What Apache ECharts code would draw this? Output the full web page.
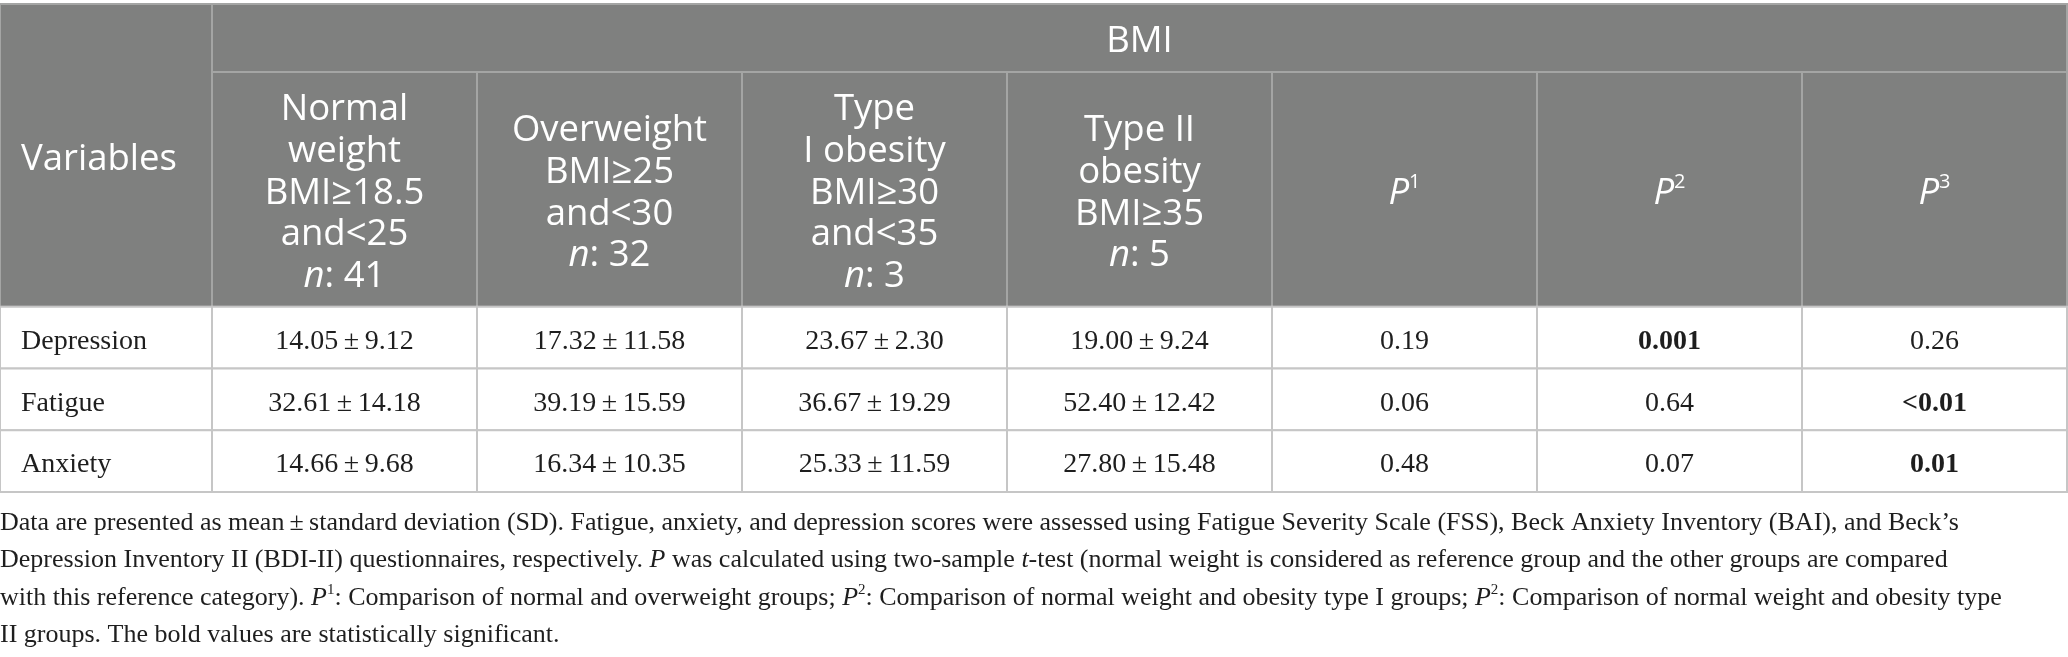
<!DOCTYPE html>
<html><head><meta charset="utf-8">
<script src="https://cdn.jsdelivr.net/npm/echarts@6/dist/echarts.min.js"></script>
<style>html,body{margin:0;padding:0;background:#fff}#c{width:2068px;height:657px}</style>
</head><body><div id="c"></div>
<script>
// ---------- data ----------
const firstHeader = 'Variables';
const spanHeader = 'BMI';
const variables = ['Depression', 'Fatigue', 'Anxiety'];
const groupNames = ['Normal\nweight', 'Overweight', 'Type\nI obesity', 'Type II\nobesity'];
const groupRanges = ['BMI≥18.5\nand<25', 'BMI≥25\nand<30', 'BMI≥30\nand<35', 'BMI≥35'];
const groupN = [41, 32, 3, 5];
const normalMean = [14.05, 32.61, 14.66];
const normalSD   = [9.12, 14.18, 9.68];
const overMean   = [17.32, 39.19, 16.34];
const overSD     = [11.58, 15.59, 10.35];
const ob1Mean    = [23.67, 36.67, 25.33];
const ob1SD      = [2.30, 19.29, 11.59];
const ob2Mean    = [19.00, 52.40, 27.80];
const ob2SD      = [9.24, 12.42, 15.48];
const pLabels = ['1', '2', '3'];
const p1 = ['0.19', '0.06', '0.48'];
const p2 = ['0.001', '0.64', '0.07'];
const p3 = ['0.26', '<0.01', '0.01'];
const p1Bold = [false, false, false];
const p2Bold = [true, false, false];
const p3Bold = [false, true, true];
const captionLines = [
  'Data are presented as mean\u2009±\u2009standard deviation (SD). Fatigue, anxiety, and depression scores were assessed using Fatigue Severity Scale (FSS), Beck Anxiety Inventory (BAI), and Beck’s',
  'Depression Inventory II (BDI-II) questionnaires, respectively. {i|P} was calculated using two-sample {i|t}-test (normal weight is considered as reference group and the other groups are compared',
  'with this reference category). {i|P}{s|1}: Comparison of normal and overweight groups; {i|P}{s|2}: Comparison of normal weight and obesity type I groups; {i|P}{s|2}: Comparison of normal weight and obesity type',
  'II groups. The bold values are statistically significant.'
];

// ---------- layout (column / row units on the axes) ----------
const colEdges = [0, 0.8, 1.8, 2.8, 3.8, 4.8, 5.8, 6.8, 7.8];
const rowEdges = [0, 1.1, 4.9, 5.9, 6.9, 7.9];
const HEAD_FILL = '#7f807f', HEAD_LINE = '#a4a5a4', BODY_LINE = '#c6c6c6';
const SANS = '"Open Sans", "Noto Sans", sans-serif';
const SERIF = '"Liberation Serif", "DejaVu Serif", serif';
const HEAD_SIZE = 36.5;

const fmt = (m, s) => m.toFixed(2) + '\u2009±\u2009' + s.toFixed(2);
const cells = [];
function addCell(c0, c1, r0, r1, text, opt) {
  cells.push(Object.assign({ value: [colEdges[c0], colEdges[c1], rowEdges[r0], rowEdges[r1]], text, head: false, align: 'center', bold: false }, opt || {}));
}
addCell(0, 1, 0, 2, firstHeader, { head: true, align: 'left' });
addCell(1, 8, 0, 1, spanHeader, { head: true });
groupNames.forEach((g, i) => addCell(1 + i, 2 + i, 1, 2, g + '\n' + groupRanges[i] + '\n{i|n}: ' + groupN[i], { head: true }));
pLabels.forEach((p, k) => addCell(5 + k, 6 + k, 1, 2, '{i|P}{s|' + p + '}', { head: true }));
const groupCols = [[normalMean, normalSD], [overMean, overSD], [ob1Mean, ob1SD], [ob2Mean, ob2SD]];
const pCols = [[p1, p1Bold], [p2, p2Bold], [p3, p3Bold]];
variables.forEach((v, r) => {
  addCell(0, 1, 2 + r, 3 + r, v, { align: 'left' });
  groupCols.forEach((gc, i) => addCell(1 + i, 2 + i, 2 + r, 3 + r, fmt(gc[0][r], gc[1][r])));
  pCols.forEach((pc, k) => addCell(5 + k, 6 + k, 2 + r, 3 + r, pc[0][r], { bold: pc[1][r] }));
});

const headRich = {
  i: { fontFamily: SANS, fontSize: HEAD_SIZE, fontStyle: 'italic', fill: '#fff', lineHeight: 41.7 },
  s: { fontFamily: SANS, fontSize: 20, fill: '#fff', lineHeight: 31, verticalAlign: 'top' }
};

function renderItem(params, api) {
  const cell = cells[params.dataIndex];
  const a = api.coord([api.value(0), api.value(2)]);
  const b = api.coord([api.value(1), api.value(3)]);
  const x = a[0], y = a[1], w = b[0] - a[0], h = b[1] - a[1];
  const head = cell.head;
  const textStyle = head ? {
    fontFamily: SANS, fontSize: HEAD_SIZE, fill: '#fff', lineHeight: 41.7, rich: headRich
  } : {
    fontFamily: SERIF, fontSize: 28, fill: '#1e1e1e', fontWeight: cell.bold ? 'bold' : 'normal'
  };
  return {
    type: 'group',
    children: [
      { type: 'rect', shape: { x, y, width: w, height: h },
        style: { fill: head ? HEAD_FILL : '#fff', stroke: head ? HEAD_LINE : BODY_LINE, lineWidth: 2 } },
      { type: 'text', style: Object.assign({
          x: cell.align === 'left' ? x + 21 : x + w / 2,
          y: y + h / 2 + (head ? 4 : 4),
          text: cell.text, align: cell.align, verticalAlign: 'middle'
        }, textStyle) }
    ]
  };
}

const captionRich = {
  i: { fontFamily: SERIF, fontSize: 26, fontStyle: 'italic', fill: '#1e1e1e', lineHeight: 30 },
  s: { fontFamily: SERIF, fontSize: 15, fill: '#1e1e1e', lineHeight: 22, verticalAlign: 'top' }
};
const captionY = [523, 560.5, 598, 635.5];

const chart = echarts.init(document.getElementById('c'), null, { renderer: 'canvas' });
chart.setOption({
  animation: false,
  grid: { left: 0, top: 4, width: 2067, height: 488 },
  xAxis: { type: 'value', min: colEdges[0], max: colEdges[colEdges.length - 1], show: false },
  yAxis: { type: 'value', min: rowEdges[0], max: rowEdges[rowEdges.length - 1], inverse: true, show: false },
  series: [{
    type: 'custom',
    renderItem,
    clip: false,
    encode: { x: [0, 1], y: [2, 3] },
    data: cells.map(c => c.value)
  }],
  graphic: captionLines.map((t, k) => ({
    type: 'text', x: 0, y: captionY[k],
    style: { text: t, fontFamily: SERIF, fontSize: 26, fill: '#1e1e1e', lineHeight: 30,
      align: 'left', verticalAlign: 'middle', rich: captionRich }
  }))
});
</script></body></html>
